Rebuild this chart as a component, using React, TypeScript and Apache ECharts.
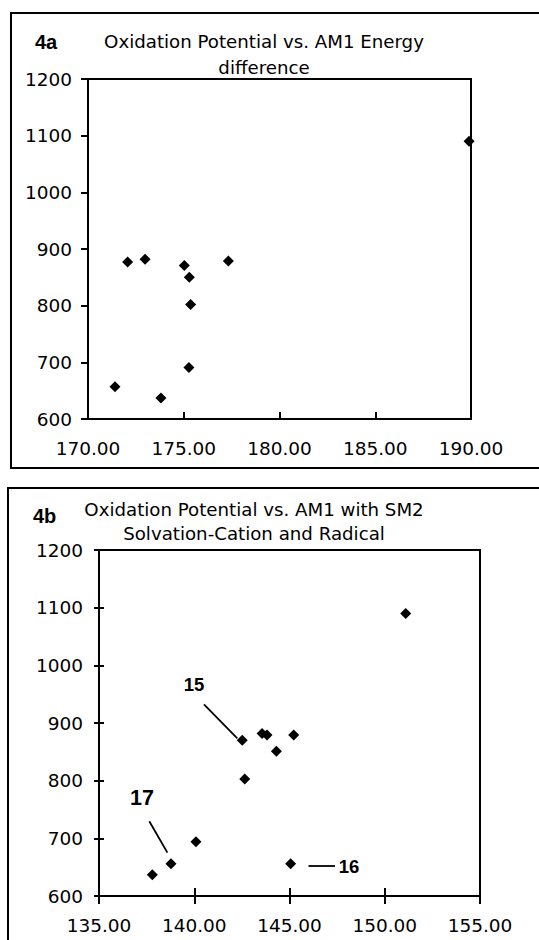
import React, { useEffect, useRef } from "react";
import * as echarts from "echarts";

// ---- data ----
const titleA = "Oxidation Potential vs. AM1 Energy\ndifference";
const titleB = "Oxidation Potential vs. AM1 with SM2\nSolvation-Cation and Radical";
const panelA = "4a";
const panelB = "4b";

const energyA = [171.41, 172.07, 172.98, 173.81, 175.03, 175.29, 175.36, 175.27, 177.33, 189.9];
const potentialA = [657, 877, 882, 637, 871, 850, 802, 691, 879, 1090];

const energyB = [137.8, 138.78, 140.09, 142.52, 142.65, 143.56, 143.82, 144.31, 145.22, 145.06, 151.1];
const potentialB = [637, 656, 694, 870, 803, 882, 879, 851, 879, 656, 1090];

const xTicksA = [170, 175, 180, 185, 190];
const xTicksB = [135, 140, 145, 150, 155];
const yTicks = [600, 700, 800, 900, 1000, 1100, 1200];

const calloutNames = ["15", "17", "16"];
const calloutLabelX = [139.99, 137.26, 148.12];
const calloutLabelY = [967.5, 769.6, 652];
const calloutFromX = [140.51, 137.64, 146.0];
const calloutFromY = [932.3, 729.7, 652];
const calloutToX = [142.26, 138.59, 147.39];
const calloutToY = [873.3, 675.3, 652];

const FONT = "DejaVu Sans";

function valueAxis(gridIndex: number, ticks: number[], opts: any) {
  return {
    type: "value",
    gridIndex,
    min: ticks[0],
    max: ticks[ticks.length - 1],
    interval: ticks[1] - ticks[0],
    splitLine: { show: false },
    ...opts,
  };
}

export default function App() {
  const ref = useRef<HTMLDivElement>(null);
  useEffect(() => {
    if (!ref.current) return;
    const chart = echarts.init(ref.current, undefined, { renderer: "svg" });
    const lineStyle = { color: "#000", width: 2 };
    const label = (fmt: (v: number) => string, margin = 16) => ({
      show: true,
      color: "#000",
      fontSize: 18.5,
      fontFamily: FONT,
      margin,
      formatter: fmt,
    });
    const xfmt = (v: number) => v.toFixed(2);
    const yfmt = (v: number) => String(v);
    const hidden = { axisLine: { show: false }, axisLabel: { show: false } };

    chart.setOption({
      animation: false,
      backgroundColor: "#fff",
      title: [
        {
          text: titleA,
          left: 264,
          top: 28,
          padding: 0,
          textAlign: "center",
          textStyle: { fontSize: 18.2, fontWeight: "normal", fontFamily: FONT, color: "#000", lineHeight: 26 },
        },
        {
          text: titleB,
          left: 254,
          top: 497,
          padding: 0,
          textAlign: "center",
          textStyle: { fontSize: 18.2, fontWeight: "normal", fontFamily: FONT, color: "#000", lineHeight: 24 },
        },
        {
          text: panelA,
          left: 35,
          top: 32,
          padding: 0,
          textStyle: { fontSize: 20, fontWeight: "bold", fontFamily: "Liberation Sans", color: "#000", lineHeight: 20 },
        },
        {
          text: panelB,
          left: 33,
          top: 506,
          padding: 0,
          textStyle: { fontSize: 20, fontWeight: "bold", fontFamily: "Liberation Sans", color: "#000", lineHeight: 20 },
        },
      ],
      graphic: [
        { type: "rect", shape: { x: 11, y: 13, width: 600, height: 455 }, style: { fill: "none", stroke: "#000", lineWidth: 2 } },
        { type: "rect", shape: { x: 8, y: 488, width: 600, height: 500 }, style: { fill: "none", stroke: "#000", lineWidth: 2 } },
      ],
      grid: [
        { left: 88, top: 79, width: 383, height: 340, show: true, borderColor: "#000", borderWidth: 2, backgroundColor: "transparent" },
        { left: 99, top: 550, width: 381, height: 346, show: true, borderColor: "#000", borderWidth: 2, backgroundColor: "transparent" },
      ],
      xAxis: [
        valueAxis(0, xTicksA, {
          position: "bottom",
          axisLine: { show: true, lineStyle },
          axisTick: { show: true, inside: true, length: 7, lineStyle },
          axisLabel: label(xfmt, 20),
        }),
        valueAxis(1, xTicksB, {
          position: "bottom",
          axisLine: { show: true, lineStyle },
          axisTick: { show: true, inside: false, length: 8, lineStyle },
          axisLabel: label(xfmt, 20),
        }),
        valueAxis(1, xTicksB, {
          position: "bottom",
          ...hidden,
          axisTick: { show: true, inside: true, length: 8, lineStyle },
        }),
      ],
      yAxis: [
        valueAxis(0, yTicks, {
          position: "left",
          axisLine: { show: true, lineStyle },
          axisTick: { show: true, inside: false, length: 7, lineStyle },
          axisLabel: label(yfmt, 16),
        }),
        valueAxis(1, yTicks, {
          position: "left",
          axisLine: { show: true, lineStyle },
          axisTick: { show: true, inside: false, length: 5, lineStyle },
          axisLabel: label(yfmt, 16),
        }),
        valueAxis(1, yTicks, {
          position: "left",
          ...hidden,
          axisTick: { show: true, inside: true, length: 5, lineStyle },
        }),
      ],
      series: [
        {
          type: "scatter",
          xAxisIndex: 0,
          yAxisIndex: 0,
          symbol: "diamond",
          symbolSize: 11,
          itemStyle: { color: "#000", opacity: 1 },
          data: energyA.map((x, i) => [x, potentialA[i]]),
        },
        {
          type: "scatter",
          xAxisIndex: 1,
          yAxisIndex: 1,
          symbol: "diamond",
          symbolSize: 11,
          itemStyle: { color: "#000", opacity: 1 },
          data: energyB.map((x, i) => [x, potentialB[i]]),
          markLine: {
            silent: true,
            symbol: "none",
            label: { show: false },
            lineStyle: { color: "#000", width: 1.8, type: "solid", opacity: 1 },
            data: calloutNames.map((_, i) => [
              { coord: [calloutFromX[i], calloutFromY[i]] },
              { coord: [calloutToX[i], calloutToY[i]] },
            ]),
          },
        },
        {
          type: "scatter",
          xAxisIndex: 1,
          yAxisIndex: 1,
          symbolSize: 0,
          silent: true,
          itemStyle: { color: "#000", opacity: 1 },
          data: calloutNames.map((n, i) => ({
            name: n,
            value: [calloutLabelX[i], calloutLabelY[i]],
            label: {
              show: true,
              position: "inside",
              formatter: n,
              color: "#000",
              textBorderWidth: 0,
              textBorderColor: "transparent",
              fontFamily: "Liberation Sans",
              fontWeight: "bold",
              fontSize: n === "17" ? 21.5 : 18.5,
            },
          })),
        },
      ],
    });
    return () => chart.dispose();
  }, []);
  return <div ref={ref} style={{ position: "absolute", left: 0, top: 0, width: 539, height: 940 }} />;
}
